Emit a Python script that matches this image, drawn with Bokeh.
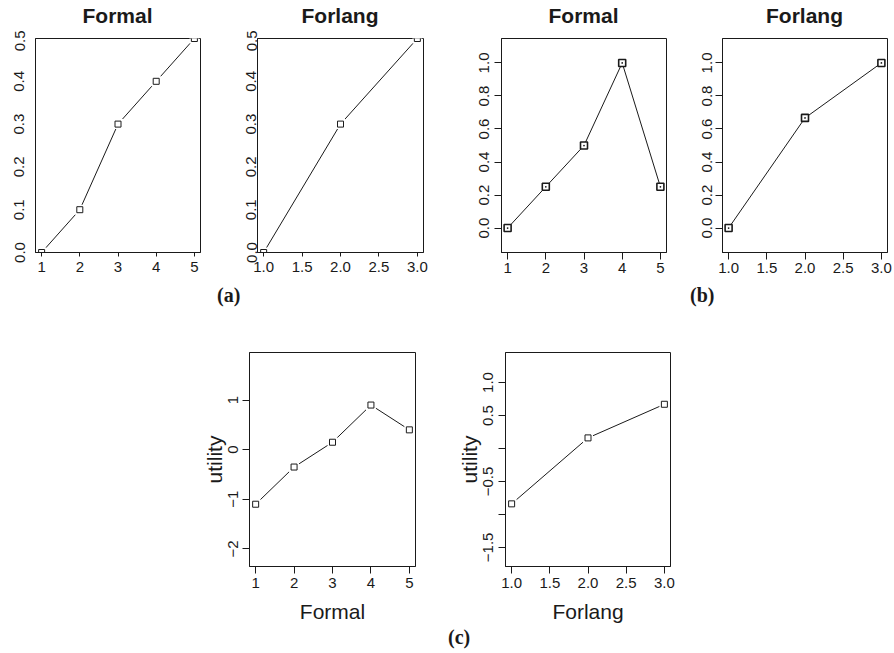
from bokeh.plotting import figure
from bokeh.layouts import column, row
from bokeh.models import Range1d, FixedTicker, NumeralTickFormatter, Div, Spacer
from bokeh.embed import file_html
from bokeh.resources import INLINE

# ---------------- data ----------------
formal_levels = [1, 2, 3, 4, 5]
forlang_levels = [1, 2, 3]

a_formal = [0.0, 0.1, 0.3, 0.4, 0.5]
a_forlang = [0.0, 0.3, 0.5]
b_formal = [0.0, 0.25, 0.5, 1.0, 0.25]
b_forlang = [0.0, 0.667, 1.0]
c_formal = [-1.1, -0.35, 0.15, 0.9, 0.4]
c_forlang = [-0.84, 0.16, 0.67]

panel_titles = ["Formal", "Forlang", "Formal", "Forlang"]
panel_tags = ["(a)", "(b)", "(c)"]

formal_xticks = [1, 2, 3, 4, 5]
forlang_xticks = [1.0, 1.5, 2.0, 2.5, 3.0]
a_yticks = [0.0, 0.1, 0.2, 0.3, 0.4, 0.5]
b_yticks = [0.0, 0.2, 0.4, 0.6, 0.8, 1.0]
c1_yticks = [-2, -1, 0, 1]
c1_ytick_labels = ["\u22122", "\u22121", "0", "1"]
c2_yticks = [-1.5, -1.0, -0.5, 0.0, 0.5, 1.0]
c2_ytick_labels = ["\u22121.5", "", "\u22120.5", "", "0.5", "1.0"]

SANS = "Liberation Sans"
SERIF = "Liberation Serif"
INK = "#1a1a1a"


def panel(x, y, xr, yr, xticks, yticks, width, height, left, right, top, bottom,
          xfmt=None, yfmt=None, ylabels=None, xlabel=None, ylabel=None,
          xtick_out=7, ytick_out=7, xs=3, ys=5, marker="square", gap=True):
    p = figure(width=width, height=height, x_range=Range1d(*xr), y_range=Range1d(*yr),
               min_border_left=left, min_border_right=right,
               min_border_top=top, min_border_bottom=bottom,
               toolbar_location=None, output_backend="svg")
    p.grid.visible = False
    p.outline_line_color = INK
    p.outline_line_width = 1
    p.outline_line_alpha = 1
    for ax, ticks, out, s in ((p.xaxis[0], xticks, xtick_out, xs), (p.yaxis[0], yticks, ytick_out, ys)):
        ax.ticker = FixedTicker(ticks=ticks)
        ax.major_tick_in = 0
        ax.major_tick_out = out
        ax.minor_tick_in = 0
        ax.minor_tick_out = 0
        ax.axis_line_color = INK
        ax.major_tick_line_color = INK
        ax.major_label_text_font = SANS
        ax.major_label_text_font_size = "15px"
        ax.major_label_text_color = INK
        ax.major_label_standoff = s
        ax.axis_label_text_font = SANS
        ax.axis_label_text_font_size = "21px"
        ax.axis_label_text_font_style = "normal"
        ax.axis_label_text_color = INK
    p.yaxis.major_label_orientation = "vertical"
    if xfmt:
        p.xaxis.formatter = NumeralTickFormatter(format=xfmt)
    if yfmt:
        p.yaxis.formatter = NumeralTickFormatter(format=yfmt)
    if ylabels is not None:
        p.yaxis.major_label_overrides = {float(t): l for t, l in zip(yticks, ylabels)}
    if xlabel:
        p.xaxis.axis_label = xlabel
        p.xaxis.axis_label_standoff = 9
    if ylabel:
        p.yaxis.axis_label = ylabel
        p.yaxis.axis_label_standoff = 0
    p.line(x, y, line_color=INK, line_width=1)
    if gap:
        p.scatter(x, y, marker="square", size=10, fill_color="white", line_color=None)
        p.scatter(x, y, marker=marker, size=6, fill_color="white", line_color=INK, line_width=1)
    else:
        p.scatter(x, y, marker=marker, size=7, fill_color="white", line_color=INK, line_width=1.6)
    return p


def title_div(txt, w, h):
    return Div(text=f'<div style="width:{w}px;font-family:\'{SANS}\';font-weight:bold;font-size:21px;'
                    f'line-height:24px;padding-top:4px;text-align:center;color:{INK}">{txt}</div>',
               width=w, height=h, margin=(0, 0, 0, 0))


def tag(txt, w, h, pad):
    return Div(text=f'<div style="font-family:\'{SERIF}\';font-weight:bold;font-size:20px;'
                    f'line-height:23px;padding-top:{pad}px;color:{INK}">{txt}</div>',
               width=w, height=h, margin=(0, 0, 0, 0))


TH = 30
title_row = row(Spacer(width=35, height=TH), title_div(panel_titles[0], 165, TH),
                Spacer(width=57, height=TH), title_div(panel_titles[1], 166, TH),
                Spacer(width=78, height=TH), title_div(panel_titles[2], 165, TH),
                Spacer(width=56, height=TH), title_div(panel_titles[3], 165, TH),
                Spacer(width=7, height=TH))

TOP_H = 252
a1 = panel(formal_levels, a_formal, (0.84, 5.16), (0.0, 0.5), formal_xticks, a_yticks,
           228, TOP_H, 35, 28, 8, 30, yfmt="0.0",
           xtick_out=4, ytick_out=0, xs=5, ys=11)
a2 = panel(forlang_levels, a_forlang, (0.92, 3.08), (0.0, 0.5), forlang_xticks, a_yticks,
           222, TOP_H, 29, 27, 8, 30, xfmt="0.0", yfmt="0.0",
           xtick_out=4, ytick_out=0, xs=5, ys=1)
b1 = panel(formal_levels, b_formal, (0.84, 5.16), (-0.148, 1.148), formal_xticks, b_yticks,
           244, TOP_H, 51, 28, 8, 30, yfmt="0.0",
           xs=3, ys=5, marker="square_dot", gap=False)
b2 = panel(forlang_levels, b_forlang, (0.92, 3.08), (-0.148, 1.148), forlang_xticks, b_yticks,
           200, TOP_H, 28, 7, 8, 30, xfmt="0.0", yfmt="0.0",
           xs=3, ys=3, marker="square_dot", gap=False)

BOT_H = 314
c1 = panel(formal_levels, c_formal, (0.84, 5.16), (-2.356, 1.96), formal_xticks, c1_yticks,
           445, BOT_H, 249, 30, 40, 60, ylabels=c1_ytick_labels,
           xlabel="Formal", ylabel="utility", xs=4, ys=4)
c2 = panel(forlang_levels, c_forlang, (0.92, 3.08), (-1.79, 1.455), forlang_xticks, c2_yticks,
           449, BOT_H, 60, 224, 40, 60, xfmt="0.0", ylabels=c2_ytick_labels,
           xlabel="Forlang", ylabel="utility", xs=4, ys=5)

row_labels_ab = row(Spacer(width=217, height=30), tag(panel_tags[0], 473, 30, 2),
                    tag(panel_tags[1], 204, 30, 2))
row_label_c = row(Spacer(width=448, height=27), tag(panel_tags[2], 446, 27, 0))

layout = column(title_row, row(a1, a2, b1, b2), row_labels_ab, row(c1, c2), row_label_c)
open("out.html", "w").write(file_html(layout, INLINE))
